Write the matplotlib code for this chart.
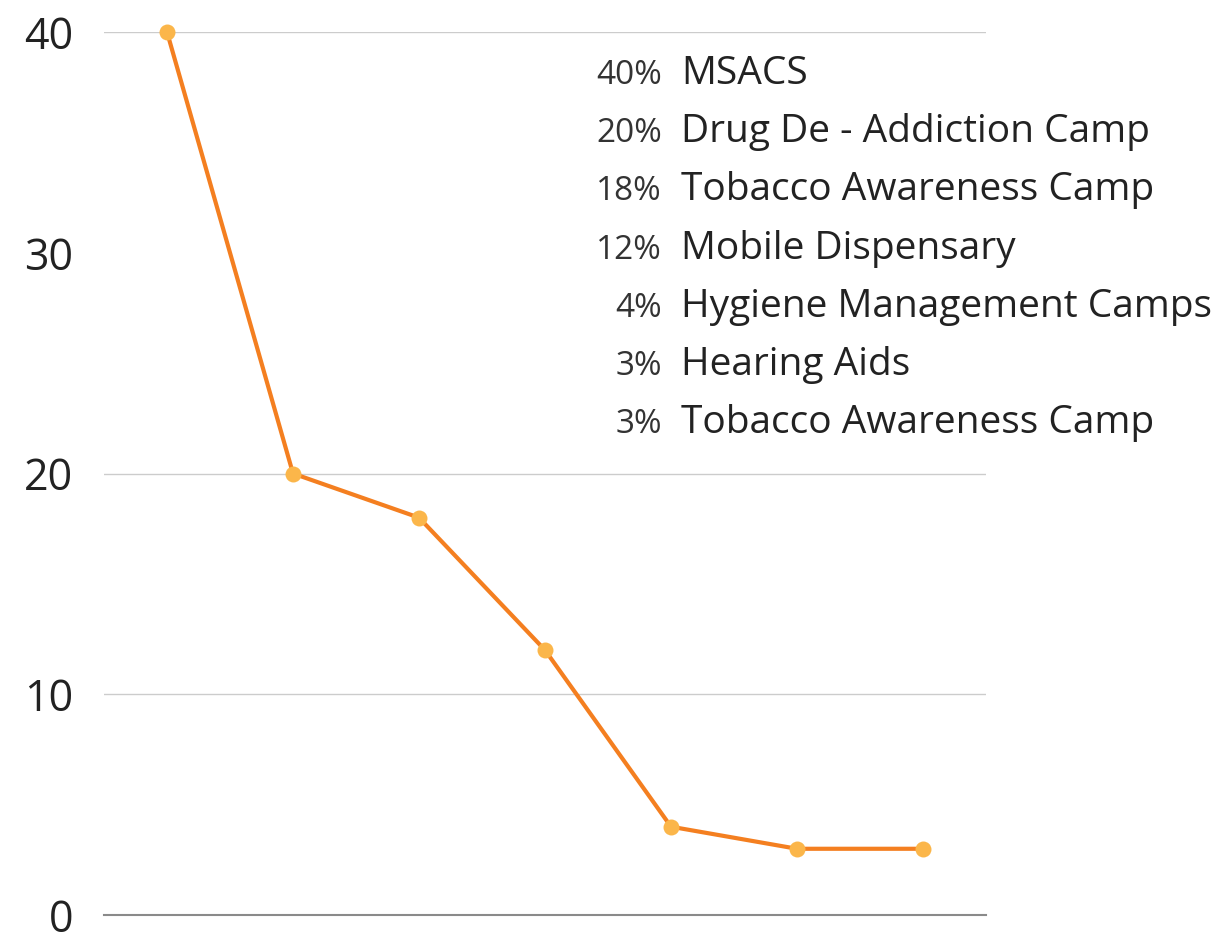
import matplotlib
matplotlib.use('Agg')
import matplotlib.pyplot as plt

categories = ['MSACS', 'Drug De - Addiction Camp', 'Tobacco Awareness Camp',
              'Mobile Dispensary', 'Hygiene Management Camps', 'Hearing Aids',
              'Tobacco Awareness Camp']
values = [40, 20, 18, 12, 4, 3, 3]
yticks = [0, 10, 20, 30, 40]
gridlines = [10, 20, 40]  # the 30 line is not drawn in the original

plt.rcParams['font.family'] = ['Open Sans', 'DejaVu Sans']

fig = plt.figure(figsize=(12.29, 9.35), dpi=100)
ax = fig.add_axes([104 / 1229, 20 / 935, 882 / 1229, 883 / 935])

x = list(range(len(values)))
ax.plot(x, values, color='#f47f20', linewidth=3, zorder=3, clip_on=False)
ax.plot(x, values, linestyle='none', marker='o', markersize=11.5,
        markerfacecolor='#fbb64a', markeredgecolor='none', zorder=4,
        clip_on=False)

for g in gridlines:
    ax.axhline(g, color='#cccccc', linewidth=1, zorder=1)

ax.set_xlim(-0.5, len(values) - 0.5)
ax.set_ylim(0, 40)
ax.set_yticks(yticks)
ax.set_yticklabels([str(t) for t in yticks], fontsize=31, color='#222222')
ax.set_xticks([])
ax.tick_params(axis='y', length=0, pad=22)
for s in ['top', 'right', 'left']:
    ax.spines[s].set_visible(False)
ax.spines['bottom'].set_color('#8a8a8a')
ax.spines['bottom'].set_linewidth(1.5)

# list of categories with their shares
base_y = 84
step = 58.2
for i, (v, c) in enumerate(zip(values, categories)):
    yy = 1 - (base_y + i * step) / 935
    fig.text(662 / 1229, yy, f'{v}%', ha='right', va='baseline',
             fontsize=24, color='#333333')
    fig.text(681 / 1229, yy, c, ha='left', va='baseline',
             fontsize=28, color='#222222')

fig.savefig('out.png', dpi=100)
